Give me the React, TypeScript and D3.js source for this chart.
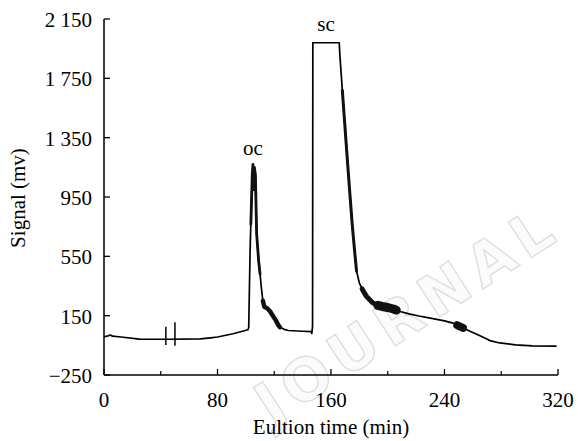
import React, { useEffect, useRef } from 'react';
import * as d3 from 'd3';

// elution time (min) and detector signal (mV)
const elutionTime = [
  0, 3, 4.5, 6, 12, 25, 45, 68, 75, 80, 91, 101.5,
  102, 103, 104.5, 105, 105.5, 106, 106.7, 107.6, 109, 110, 111, 112, 113, 115, 117, 119, 121, 123, 124,
  127, 130, 140, 146, 146.5, 147, 147.2,
  165.8, 166.3, 168.5, 171, 173.4, 175, 176.5, 178, 180, 182.5, 185, 189, 192, 196, 200, 204, 208,
  215, 222, 230, 240, 246, 251, 258, 265, 272, 279, 290, 302, 319,
];
const signalMv = [
  8, 14, 20, 12, 6, -8, -9, -7, 0, 6, 28, 55,
  70, 600, 1100, 1170, 1000, 1150, 1100, 700, 520, 430, 330, 250, 210, 200, 180, 150, 120, 85, 72,
  58, 50, 45, 43, 30, 80, 1990,
  1990, 1900, 1600, 1270, 960, 760, 600, 450, 370, 320, 280, 240, 222, 212, 205, 195, 180,
  162, 148, 134, 115, 100, 76, 45, 15, -18, -34, -47, -54, -56,
];

// short injection marks on the baseline: [time, low, high]
const spikes = [
  [43.6, -48, 75],
  [50, -52, 105],
];

// noisy stretches drawn as a thicker stroke: [from, to, width]
const noisy = [
  [103.5, 110, 2.8],
  [112, 124, 4.5],
  [168, 178, 3],
  [182, 190, 5],
  [193, 206, 9],
  [249, 253, 8],
];

const peakLabels = [
  { name: 'oc', t: 105, v: 1230 },
  { name: 'sc', t: 156.5, v: 2070 },
];

const xTicks = [0, 80, 160, 240, 320];
const xMinorTicks = [40, 120, 200, 280];
const yTicks = [-250, 150, 550, 950, 1350, 1750, 2150];

const fmt = (d: number) => {
  const s = String(Math.abs(d));
  const body = s.length > 3 ? s.slice(0, s.length - 3) + ' ' + s.slice(-3) : s;
  return (d < 0 ? '\u2212' : '') + body;
};

export default function App() {
  const svgRef = useRef<SVGSVGElement>(null);
  const width = 578;
  const height = 441;

  useEffect(() => {
    const svg = d3.select(svgRef.current);
    svg.selectAll('*').remove();

    const font = '"Liberation Serif", "Times New Roman", serif';
    const x = d3.scaleLinear().domain([0, 320]).range([104, 558]);
    const y = d3.scaleLinear().domain([-250, 2150]).range([375, 19]);

    // faint watermark
    svg.append('text')
      .attr('transform', 'translate(272,426) rotate(-33)')
      .attr('font-family', '"DejaVu Sans", sans-serif')
      .attr('font-weight', 'bold')
      .attr('font-size', 58)
      .attr('letter-spacing', 8)
      .attr('fill', '#fbfbfb')
      .attr('stroke', '#dedede')
      .attr('stroke-width', 1.4)
      .text('JOURNAL');

    const g = svg.append('g');

    // axes
    g.append('line').attr('x1', x(0)).attr('x2', x(320)).attr('y1', y(-250)).attr('y2', y(-250))
      .attr('stroke', '#000').attr('stroke-width', 1.5);
    g.append('line').attr('x1', x(0)).attr('x2', x(0)).attr('y1', y(-250)).attr('y2', y(2150))
      .attr('stroke', '#000').attr('stroke-width', 1.5);

    g.selectAll('.xt').data(xTicks).enter().append('line')
      .attr('x1', d => x(d)).attr('x2', d => x(d))
      .attr('y1', y(-250)).attr('y2', y(-250) - 6)
      .attr('stroke', '#000').attr('stroke-width', 1.3);
    g.selectAll('.xm').data(xMinorTicks).enter().append('line')
      .attr('x1', d => x(d)).attr('x2', d => x(d))
      .attr('y1', y(-250)).attr('y2', y(-250) - 4)
      .attr('stroke', '#000').attr('stroke-width', 1.2);
    g.selectAll('.yt').data(yTicks).enter().append('line')
      .attr('x1', x(0)).attr('x2', x(0) + 6)
      .attr('y1', d => y(d)).attr('y2', d => y(d))
      .attr('stroke', '#000').attr('stroke-width', 1.3);

    g.selectAll('.xl').data(xTicks).enter().append('text')
      .attr('x', d => x(d)).attr('y', y(-250) + 32)
      .attr('text-anchor', 'middle')
      .attr('font-family', font).attr('font-size', 21)
      .text(d => fmt(d));
    g.selectAll('.yl').data(yTicks).enter().append('text')
      .attr('x', x(0) - 12).attr('y', d => y(d) + 8)
      .attr('text-anchor', 'end')
      .attr('font-family', font).attr('font-size', 21)
      .text(d => fmt(d));

    g.append('text')
      .attr('x', 331).attr('y', 434)
      .attr('text-anchor', 'middle')
      .attr('font-family', font).attr('font-size', 21)
      .text('Eultion time (min)');
    g.append('text')
      .attr('transform', 'translate(25,198) rotate(-90)')
      .attr('text-anchor', 'middle')
      .attr('font-family', font).attr('font-size', 21)
      .text('Signal (mv)');

    // trace
    const pts: [number, number][] = elutionTime.map((t, i) => [t, signalMv[i]]);
    const line = d3.line<[number, number]>().x(d => x(d[0])).y(d => y(d[1]));
    g.append('path')
      .datum(pts)
      .attr('fill', 'none')
      .attr('stroke', '#000')
      .attr('stroke-width', 1.7)
      .attr('stroke-linejoin', 'round')
      .attr('d', line);

    const valueAt = (t: number) => {
      const i = d3.bisectLeft(elutionTime, t);
      if (i <= 0) return signalMv[0];
      if (i >= elutionTime.length) return signalMv[signalMv.length - 1];
      const t0 = elutionTime[i - 1], t1 = elutionTime[i];
      return signalMv[i - 1] + (signalMv[i] - signalMv[i - 1]) * (t - t0) / (t1 - t0);
    };

    noisy.forEach(([a, b, w]) => {
      const seg: [number, number][] = [[a, valueAt(a)]];
      pts.forEach(p => { if (p[0] > a && p[0] < b) seg.push(p); });
      seg.push([b, valueAt(b)]);
      g.append('path')
        .datum(seg)
        .attr('fill', 'none')
        .attr('stroke', '#111')
        .attr('stroke-width', w)
        .attr('stroke-linecap', 'round')
        .attr('stroke-linejoin', 'round')
        .attr('d', line);
    });

    g.selectAll('.sp').data(spikes).enter().append('line')
      .attr('x1', d => x(d[0])).attr('x2', d => x(d[0]))
      .attr('y1', d => y(d[1])).attr('y2', d => y(d[2]))
      .attr('stroke', '#000').attr('stroke-width', 1.5);

    g.selectAll('.pl').data(peakLabels).enter().append('text')
      .attr('x', d => x(d.t)).attr('y', d => y(d.v))
      .attr('text-anchor', 'middle')
      .attr('font-family', font).attr('font-size', 21)
      .text(d => d.name);
  }, []);

  return (
    <svg
      ref={svgRef}
      width={width}
      height={height}
      style={{ position: 'absolute', left: 0, top: 0, background: '#fff' }}
    />
  );
}
